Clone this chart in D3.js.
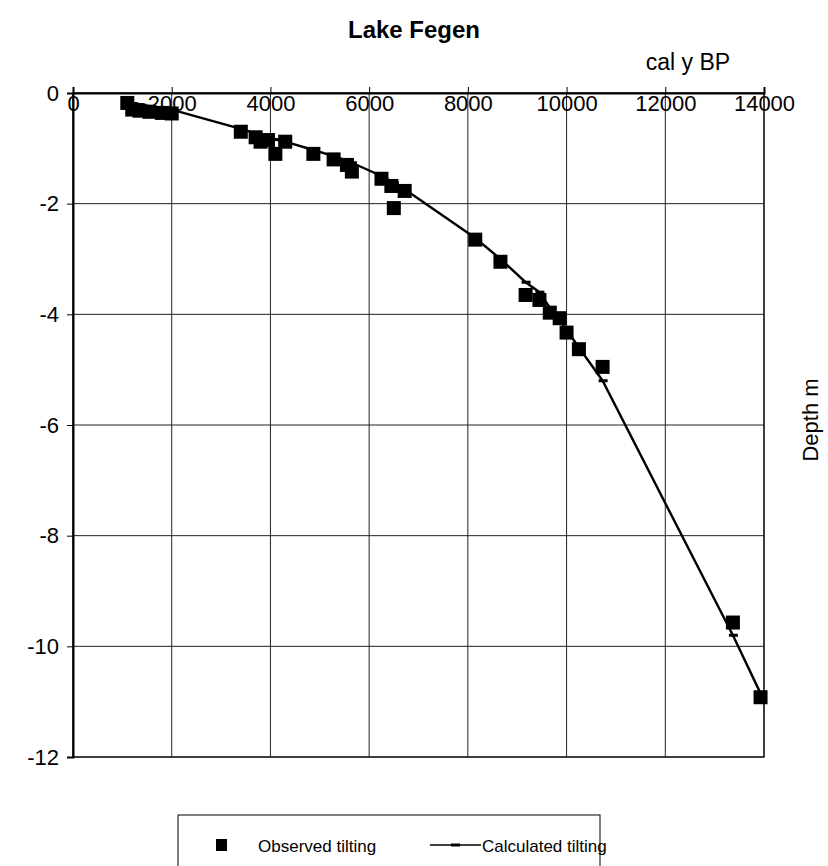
<!DOCTYPE html>
<html>
<head>
<meta charset="utf-8">
<script src="https://cdn.jsdelivr.net/npm/d3@7"></script>
<style>
  body { margin: 0; background: #fff; }
  svg { display: block; font-family: Arial, 'Liberation Sans', sans-serif; }
</style>
</head>
<body>
<div id="chart"></div>
<script>
// age of each dated level (cal y BP)
const years = [1100, 1200, 1350, 1550, 1800, 2000, 3400, 3700, 3800, 3950, 4100, 4300,
  4870, 5280, 5550, 5650, 6250, 6450, 6500, 6720, 8150, 8660, 9170, 9450, 9660,
  9860, 10000, 10250, 10730, 13370, 13930];
// observed tilting (depth, m)
const observedDepth = [-0.18, -0.3, -0.32, -0.34, -0.36, -0.37, -0.7, -0.8, -0.88, -0.85,
  -1.1, -0.88, -1.1, -1.2, -1.3, -1.42, -1.55, -1.68, -2.08, -1.77, -2.65, -3.05,
  -3.65, -3.74, -3.97, -4.07, -4.33, -4.63, -4.95, -9.57, -10.92];
// calculated tilting (depth, m)
const calculatedDepth = [-0.17, -0.19, -0.21, -0.24, -0.27, -0.3, -0.65, -0.73, -0.76, -0.8,
  -0.84, -0.88, -1.03, -1.14, -1.22, -1.26, -1.5, -1.6, -1.62, -1.74, -2.62, -3.0,
  -3.42, -3.6, -3.88, -4.1, -4.28, -4.6, -5.2, -9.8, -10.85];

const xTicks = [0, 2000, 4000, 6000, 8000, 10000, 12000, 14000];
const yTicks = [0, -2, -4, -6, -8, -10, -12];

const width = 828;
const height = 866;
const margins = { top: 93, right: 64, bottom: 109, left: 73 };

const svg = d3
  .select('#chart')
  .append('svg')
  .attr('width', width)
  .attr('height', height);

const x = d3.scaleLinear().domain([0, 14000]).range([margins.left, width - margins.right]);
const y = d3.scaleLinear().domain([-12, 0]).range([height - margins.bottom, margins.top]);

// grid
const grid = svg.append('g').attr('stroke', '#222').attr('stroke-width', 1);
grid
  .selectAll('line.h')
  .data(yTicks)
  .enter()
  .append('line')
  .attr('x1', x(0))
  .attr('x2', x(14000))
  .attr('y1', (d) => y(d))
  .attr('y2', (d) => y(d));
grid
  .selectAll('line.v')
  .data(xTicks)
  .enter()
  .append('line')
  .attr('x1', (d) => x(d))
  .attr('x2', (d) => x(d))
  .attr('y1', y(0))
  .attr('y2', y(-12));

// plot frame
svg
  .append('rect')
  .attr('x', x(0))
  .attr('y', y(0))
  .attr('width', x(14000) - x(0))
  .attr('height', y(-12) - y(0))
  .attr('fill', 'none')
  .attr('stroke', '#111')
  .attr('stroke-width', 1.3);

// axes
const xAxis = d3
  .axisBottom(x)
  .tickValues(xTicks)
  .tickSize(-6)
  .tickPadding(6)
  .tickFormat((d) => String(d));
const xAxisGroup = svg.append('g').attr('transform', `translate(0, ${y(0)})`).call(xAxis);

const yAxis = d3
  .axisLeft(y)
  .tickValues(yTicks)
  .tickSize(6)
  .tickPadding(8)
  .tickFormat((d) => String(d));
const yAxisGroup = svg.append('g').attr('transform', `translate(${x(0)}, 0)`).call(yAxis);

[xAxisGroup, yAxisGroup].forEach((g) => {
  g.select('.domain').attr('stroke', '#000').attr('stroke-width', 2);
  g.selectAll('line').attr('stroke', '#000');
  g.selectAll('text')
    .attr('fill', '#000')
    .style('font-size', '22px')
    .style('font-family', "Arial, 'Liberation Sans', sans-serif");
});
xAxisGroup.selectAll('text').attr('y', 2).attr('dy', '0.71em');

// calculated tilting
const line = d3
  .line()
  .x((d, i) => x(years[i]))
  .y((d) => y(d));

svg
  .append('path')
  .datum(calculatedDepth)
  .attr('fill', 'none')
  .attr('stroke', '#000')
  .attr('stroke-width', 2.4)
  .attr('d', line);

svg
  .selectAll('rect.calc')
  .data(calculatedDepth)
  .enter()
  .append('rect')
  .attr('class', 'calc')
  .attr('x', (d, i) => x(years[i]) - 4)
  .attr('y', (d) => y(d) - 1.5)
  .attr('width', 9)
  .attr('height', 3)
  .attr('fill', '#000');

// observed tilting
const sq = 14;
svg
  .selectAll('rect.obs')
  .data(observedDepth)
  .enter()
  .append('rect')
  .attr('class', 'obs')
  .attr('x', (d, i) => x(years[i]) - sq / 2)
  .attr('y', (d) => y(d) - sq / 2)
  .attr('width', sq)
  .attr('height', sq)
  .attr('fill', '#000');

// titles
svg
  .append('text')
  .attr('x', 414)
  .attr('y', 38)
  .attr('text-anchor', 'middle')
  .style('font-size', '24px')
  .style('font-weight', 'bold')
  .text('Lake Fegen');

svg
  .append('text')
  .attr('x', 688)
  .attr('y', 70)
  .attr('text-anchor', 'middle')
  .style('font-size', '23px')
  .text('cal y BP');

svg
  .append('text')
  .attr('transform', 'translate(818, 420) rotate(-90)')
  .attr('text-anchor', 'middle')
  .style('font-size', '22px')
  .text('Depth m');

// legend
const legend = svg.append('g');
legend
  .append('rect')
  .attr('x', 178)
  .attr('y', 815)
  .attr('width', 422)
  .attr('height', 70)
  .attr('fill', 'none')
  .attr('stroke', '#000')
  .attr('stroke-width', 1);
legend
  .append('rect')
  .attr('x', 216)
  .attr('y', 839)
  .attr('width', 11)
  .attr('height', 12)
  .attr('fill', '#000');
legend
  .append('text')
  .attr('x', 258)
  .attr('y', 852)
  .style('font-size', '17px')
  .text('Observed tilting');
legend
  .append('line')
  .attr('x1', 430)
  .attr('x2', 481)
  .attr('y1', 845)
  .attr('y2', 845)
  .attr('stroke', '#000')
  .attr('stroke-width', 1.5);
legend
  .append('rect')
  .attr('x', 451)
  .attr('y', 843.5)
  .attr('width', 9)
  .attr('height', 3)
  .attr('fill', '#000');
legend
  .append('text')
  .attr('x', 482)
  .attr('y', 852)
  .style('font-size', '17px')
  .text('Calculated tilting');
</script>
</body>
</html>
